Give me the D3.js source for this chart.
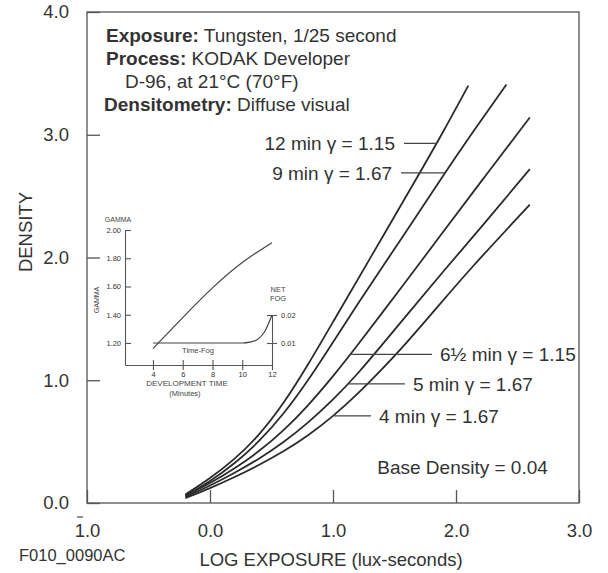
<!DOCTYPE html>
<html>
<head>
<meta charset="utf-8">
<script src="https://cdn.jsdelivr.net/npm/d3@7"></script>
<style>
  body { margin: 0; background: #fff; }
  svg { font-family: "Liberation Sans", Arial, sans-serif; fill: #333; }
  .axis path, .axis line { stroke: #555; }
  .axis text { fill: #333; }
</style>
</head>
<body>
<div id="chart"></div>
<script>
// characteristic curves: [log exposure, density]
const curve12 = [[-0.2,0.07],[0.0,0.20],[0.2,0.355],[0.4,0.55],[0.6,0.81],[0.8,1.13],[1.0,1.475],[1.3,1.99],[1.7,2.68],[1.85,2.94],[2.1,3.40]];
const curve9 = [[-0.2,0.06],[0.0,0.175],[0.2,0.32],[0.4,0.50],[0.6,0.725],[0.8,1.0],[1.0,1.31],[1.2,1.62],[1.4,1.92],[1.6,2.22],[1.89,2.66],[2.1,2.97],[2.41,3.41]];
const curve65 = [[-0.2,0.06],[0.0,0.16],[0.2,0.28],[0.4,0.42],[0.6,0.59],[0.8,0.795],[1.0,1.03],[1.2,1.285],[1.4,1.55],[1.68,1.92],[1.84,2.135],[2.2,2.615],[2.6,3.14]];
const curve5 = [[-0.2,0.05],[0.0,0.14],[0.2,0.245],[0.4,0.36],[0.6,0.495],[0.8,0.655],[1.0,0.84],[1.2,1.05],[1.4,1.29],[1.6,1.53],[1.89,1.88],[2.2,2.24],[2.6,2.72]];
const curve4 = [[-0.2,0.04],[0.0,0.12],[0.2,0.21],[0.4,0.31],[0.6,0.42],[0.8,0.55],[1.0,0.705],[1.2,0.887],[1.4,1.09],[1.6,1.307],[1.8,1.538],[2.11,1.904],[2.6,2.43]];
const curves = [curve12, curve9, curve65, curve5, curve4];

const labelTexts = ["12 min \u03b3 = 1.15", "9 min \u03b3 = 1.67", "6\u00bd min \u03b3 = 1.15", "5 min \u03b3 = 1.67", "4 min \u03b3 = 1.67"];
const labelDensity = [2.93, 2.69, 1.21, 0.97, 0.71];

const xTicks = [-1, 0, 1, 2, 3];
const yTicks = [0, 1, 2, 3, 4];

// inset: gamma and time-fog vs development time
const gammaTime = [4, 6, 8, 10, 12];
const gammaValues = [1.16, 1.38, 1.59, 1.77, 1.91];
const fogTime = [4, 6, 8, 10, 10.5, 11, 11.5, 12];
const fogValues = [0.01, 0.01, 0.01, 0.0100, 0.0103, 0.0112, 0.0140, 0.020];
const timeTicks = [4, 6, 8, 10, 12];
const gammaTicks = [1.2, 1.4, 1.6, 1.8, 2.0];
const fogTicks = [0.01, 0.02];

const headerLines = [
  ["Exposure:", " Tungsten, 1/25 second"],
  ["Process:", " KODAK Developer"],
  ["", "D-96, at 21\u00b0C (70\u00b0F)"],
  ["Densitometry:", " Diffuse visual"]
];

const W = 608, H = 573;
const svg = d3.select("#chart").append("svg")
    .attr("width", W).attr("height", H);

const x = d3.scaleLinear().domain([-1, 3]).range([87, 579]);
const y = d3.scaleLinear().domain([0, 4]).range([503, 12]);

// frame
svg.append("rect")
    .attr("x", x(-1)).attr("y", y(4))
    .attr("width", x(3) - x(-1)).attr("height", y(0) - y(4))
    .attr("fill", "none").attr("stroke", "#555").attr("stroke-width", 1.3);

// axes with inward ticks
const xAxis = svg.append("g").attr("class", "axis")
    .attr("transform", `translate(0,${y(0)})`)
    .call(d3.axisBottom(x).tickValues(xTicks).tickSizeInner(-13).tickSizeOuter(0).tickPadding(21)
      .tickFormat(d => Math.abs(d).toFixed(1)));
xAxis.selectAll("text").attr("font-size", 18.5).attr("font-family", "Liberation Sans, Arial, sans-serif");
xAxis.select(".domain").remove();
xAxis.selectAll("line").attr("stroke-width", 1.3);
// bar over the negative characteristic
svg.append("line")
    .attr("x1", x(-1) - 10).attr("x2", x(-1) - 4)
    .attr("y1", 517).attr("y2", 517)
    .attr("stroke", "#444").attr("stroke-width", 1.2);

const yAxis = svg.append("g").attr("class", "axis")
    .attr("transform", `translate(${x(-1)},0)`)
    .call(d3.axisLeft(y).tickValues(yTicks).tickSizeInner(-13).tickSizeOuter(0).tickPadding(18)
      .tickFormat(d => d.toFixed(1)));
yAxis.selectAll("text").attr("font-size", 18.5).attr("font-family", "Liberation Sans, Arial, sans-serif");
yAxis.select(".domain").remove();
yAxis.selectAll("line").attr("stroke-width", 1.3);

svg.append("text")
    .attr("transform", `translate(26,232) rotate(-90)`)
    .attr("text-anchor", "middle").attr("dy", "0.35em")
    .attr("font-size", 18.5).text("DENSITY");

svg.append("text")
    .attr("x", 331).attr("y", 566).attr("text-anchor", "middle")
    .attr("font-size", 18.5).text("LOG EXPOSURE (lux-seconds)");

svg.append("text")
    .attr("x", 19).attr("y", 561)
    .attr("font-size", 16.5).text("F010_0090AC");

// header block
headerLines.forEach((ln, i) => {
  const t = svg.append("text")
      .attr("x", ln[0] ? (i === 3 ? 104 : 106) : 125)
      .attr("y", 41.5 + i * 23)
      .attr("font-size", 19);
  if (ln[0]) t.append("tspan").attr("font-weight", "bold").text(ln[0]);
  t.append("tspan").text(ln[1]);
});

// curves
const line = d3.line()
    .x(d => x(d[0])).y(d => y(d[1]))
    .curve(d3.curveBasis);

svg.append("g").selectAll("path")
  .data(curves)
  .join("path")
    .attr("d", line)
    .attr("fill", "none")
    .attr("stroke", "#2b2b2b")
    .attr("stroke-width", 1.8);

// labels with leader lines
const leaderTo = [1.577, 1.553, 1.805, 1.585, 1.309];
const leftSide = [true, true, false, false, false];
labelTexts.forEach((txt, i) => {
  const c = curves[i];
  const onCurve = d3.scaleLinear().domain(c.map(p => p[1])).range(c.map(p => p[0]));
  const yy = y(labelDensity[i]);
  const x1 = x(onCurve(labelDensity[i]));
  const x2 = x(leaderTo[i]);
  svg.append("line")
      .attr("x1", x1).attr("x2", x2).attr("y1", yy).attr("y2", yy)
      .attr("stroke", "#444").attr("stroke-width", 1.3);
  svg.append("text")
      .attr("x", leftSide[i] ? x2 - 9 : x2 + 8)
      .attr("y", yy).attr("dy", "0.36em")
      .attr("text-anchor", leftSide[i] ? "end" : "start")
      .attr("font-size", 19)
      .text(txt);
});

svg.append("text")
    .attr("x", x(1.36)).attr("y", y(0.29)).attr("dy", "0.36em")
    .attr("font-size", 19).text("Base Density = 0.04");

// ---- inset ----
const inset = svg.append("g").attr("class", "inset");
const tx = d3.scaleLinear().domain([2.12, 12]).range([125, 272]);
const gy = d3.scaleLinear().domain([1.044, 2.0]).range([365, 230]);
const fy = d3.scaleLinear().domain([0.00214, 0.02]).range([365, 315]);

const gAx = inset.append("g").attr("class", "axis")
    .attr("transform", "translate(125,0)")
    .call(d3.axisLeft(gy).tickValues(gammaTicks).tickSizeInner(-6).tickSizeOuter(0).tickPadding(4)
      .tickFormat(d3.format(".2f")));
gAx.selectAll("text").attr("font-size", 7.5).attr("font-family", "Liberation Sans, Arial, sans-serif").attr("fill", "#555");
gAx.selectAll("path, line").attr("stroke", "#666").attr("stroke-width", 1.1);

const tAx = inset.append("g").attr("class", "axis")
    .attr("transform", "translate(0,365)")
    .call(d3.axisBottom(tx).tickValues(timeTicks).tickSizeInner(5).tickSizeOuter(0).tickPadding(2));
tAx.selectAll("line").attr("y1", -5);
tAx.selectAll("text").attr("font-size", 7.5).attr("font-family", "Liberation Sans, Arial, sans-serif").attr("fill", "#555");
tAx.selectAll("path, line").attr("stroke", "#666").attr("stroke-width", 1.1);

const fAx = inset.append("g").attr("class", "axis")
    .attr("transform", "translate(272,0)")
    .call(d3.axisRight(fy).tickValues(fogTicks).tickSizeInner(5).tickSizeOuter(0).tickPadding(4)
      .tickFormat(d3.format(".2f")));
fAx.selectAll("line").attr("x1", -5);
fAx.selectAll("text").attr("font-size", 7.5).attr("font-family", "Liberation Sans, Arial, sans-serif").attr("fill", "#555");
fAx.selectAll("path, line").attr("stroke", "#666").attr("stroke-width", 1.1);

inset.append("path")
    .datum(d3.zip(gammaTime, gammaValues))
    .attr("d", d3.line().x(d => tx(d[0])).y(d => gy(d[1])).curve(d3.curveNatural))
    .attr("fill", "none").attr("stroke", "#444").attr("stroke-width", 1.2);

inset.append("path")
    .datum(d3.zip(fogTime, fogValues))
    .attr("d", d3.line().x(d => tx(d[0])).y(d => fy(d[1])).curve(d3.curveMonotoneX))
    .attr("fill", "none").attr("stroke", "#444").attr("stroke-width", 1.2);

const small = (t, px, py, fs, anchor) => inset.append("text")
    .attr("x", px).attr("y", py).attr("font-size", fs)
    .attr("text-anchor", anchor || "middle").attr("fill", "#444").text(t);
small("GAMMA", 118, 222, 7);
small("NET", 278, 292, 7.5);
small("FOG", 278, 301, 7.5);
small("Time-Fog", 198, 353, 7.5);
small("DEVELOPMENT TIME", 187, 386, 8);
small("(Minutes)", 185, 396, 7.5);
inset.append("text")
    .attr("transform", "translate(99,300) rotate(-90)")
    .attr("text-anchor", "middle").attr("font-size", 7).attr("fill", "#444")
    .text("GAMMA");
</script>
</body>
</html>
